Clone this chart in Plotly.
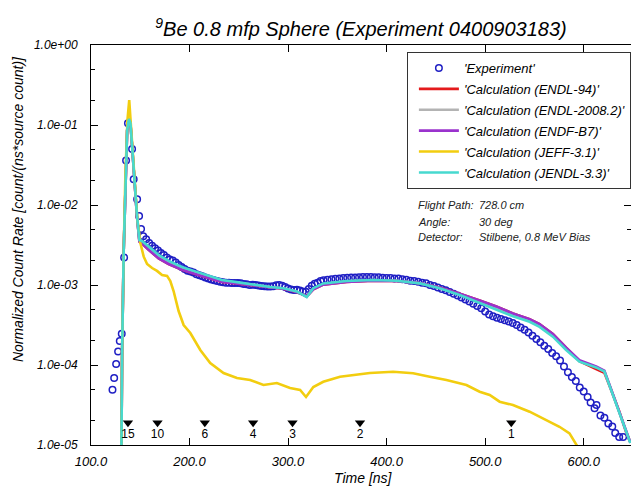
import plotly.graph_objects as go

# ---------------- data ----------------
T_EXP = [121.8, 123.5, 125.5, 127.5, 129.2, 131.2, 133.6, 135.6, 137.5, 141.7, 143.3, 146.8, 148.8, 150.8,
         153, 156, 159, 162, 165, 168, 171, 174, 177, 180, 183, 186, 189, 192, 195, 198,
         201, 204, 207, 210, 213, 216, 219, 222, 225, 228, 231, 234, 237, 240, 243, 246, 249,
         252, 255, 258, 261, 264, 267, 270, 273, 276, 279, 282, 285, 288, 291, 294, 297,
         300, 303, 306, 309, 312, 315, 318, 321, 324, 327, 330, 333, 336,
         340, 344, 348, 352, 356, 360, 364, 368, 372, 376, 380, 384, 388, 392, 396,
         400, 404, 408, 412, 416, 420, 424, 428, 432, 436, 440, 444, 448, 452, 456,
         460, 464, 468, 472, 476, 480, 484, 488, 492, 496,
         500, 504, 508, 512, 516, 520, 524, 528, 532, 536, 540, 544, 548, 552, 556,
         560, 564, 568, 572, 576, 580, 584, 588, 592, 596,
         600, 604, 607, 611, 613, 617, 621, 625, 629, 632, 636, 640]
Y_EXP = [4.9e-5, 6.9e-5, 1.03e-4, 1.47e-4, 2.0e-4, 2.46e-4, 2.2e-3, 3.6e-2, 1.05e-1, 5.0e-2, 2.1e-2, 1.18e-2, 7.3e-3, 5.0e-3,
         4.07e-3, 3.72e-3, 3.35e-3, 3.09e-3, 2.88e-3, 2.69e-3, 2.51e-3, 2.37e-3, 2.21e-3, 2.09e-3, 2.02e-3, 1.91e-3, 1.78e-3, 1.68e-3, 1.58e-3, 1.51e-3,
         1.48e-3, 1.43e-3, 1.36e-3, 1.32e-3, 1.29e-3, 1.24e-3, 1.21e-3, 1.17e-3, 1.15e-3, 1.12e-3, 1.10e-3, 1.08e-3, 1.07e-3, 1.07e-3, 1.06e-3, 1.06e-3, 1.06e-3,
         1.05e-3, 1.03e-3, 1.02e-3, 1.0e-3, 1.01e-3, 1.0e-3, 9.87e-4, 9.75e-4, 9.64e-4, 9.55e-4, 9.55e-4, 9.68e-4, 9.95e-4, 1.0e-3, 9.82e-4, 9.44e-4,
         9.02e-4, 8.81e-4, 8.65e-4, 8.71e-4, 8.51e-4, 8.32e-4, 8.22e-4, 8.91e-4, 9.77e-4, 1.035e-3, 1.07e-3, 1.12e-3, 1.15e-3,
         1.16e-3, 1.18e-3, 1.20e-3, 1.21e-3, 1.22e-3, 1.23e-3, 1.24e-3, 1.245e-3, 1.25e-3, 1.256e-3, 1.26e-3, 1.26e-3, 1.25e-3, 1.25e-3, 1.23e-3,
         1.22e-3, 1.22e-3, 1.21e-3, 1.21e-3, 1.18e-3, 1.16e-3, 1.13e-3, 1.12e-3, 1.10e-3, 1.07e-3, 1.05e-3, 1.0e-3, 9.73e-4, 9.33e-4, 8.91e-4,
         8.61e-4, 8.17e-4, 7.76e-4, 7.41e-4, 7.0e-4, 6.61e-4, 6.24e-4, 5.82e-4, 5.46e-4, 5.13e-4,
         4.68e-4, 4.27e-4, 4.07e-4, 3.89e-4, 3.76e-4, 3.63e-4, 3.51e-4, 3.35e-4, 3.16e-4, 2.95e-4, 2.75e-4, 2.54e-4, 2.32e-4, 2.11e-4, 1.93e-4,
         1.74e-4, 1.58e-4, 1.41e-4, 1.29e-4, 1.135e-4, 9.55e-5, 8.13e-5, 7.08e-5, 6.31e-5, 5.25e-5,
         4.68e-5, 3.98e-5, 3.39e-5, 2.88e-5, 3.16e-5, 2.34e-5, 2.19e-5, 1.86e-5, 1.70e-5, 1.41e-5, 1.26e-5, 1.26e-5]

T_CALC = [130.9, 131.6, 133.2, 134.9, 136.7, 138.5, 140.0, 142.0, 144.1, 146.6, 149.1,
          151.8, 158.5, 168.7, 178.8, 192.4, 205.8, 219.3, 232.9, 251.4, 266.6, 281.8, 295.2,
          308.8, 318.9, 325.6, 335.7, 359.4, 386.4, 410.1, 433.7, 453.9, 474.2, 494.4,
          511.3, 528.2, 545.1, 555.2, 568.7, 582.2, 595.7, 612.6, 621.0, 627.8, 636.2, 643.0, 647.3]
Y_JENDL33 = [1.0e-5, 1.54e-4, 2.74e-3, 2.05e-2, 8.66e-2, 1.19e-1, 1.06e-1, 4.87e-2, 1.78e-2, 7.5e-3, 3.65e-3,
             3.55e-3, 3.02e-3, 2.37e-3, 2.0e-3, 1.68e-3, 1.48e-3, 1.30e-3, 1.155e-3, 1.07e-3, 1.0e-3, 9.44e-4, 9.12e-4,
             8.32e-4, 7.08e-4, 9.12e-4, 1.047e-3, 1.12e-3, 1.155e-3, 1.13e-3, 1.047e-3, 9.12e-4, 7.5e-4, 5.96e-4,
             5.01e-4, 4.07e-4, 3.47e-4, 2.99e-4, 2.26e-4, 1.54e-4, 1.10e-4, 9.33e-5, 8.32e-5, 4.87e-5, 2.51e-5, 1.41e-5, 1.06e-5]
Y_ENDFB7 = [1.0e-5, 1.54e-4, 2.74e-3, 2.05e-2, 8.66e-2, 1.19e-1, 1.06e-1, 4.87e-2, 1.78e-2, 7.3e-3, 3.5e-3,
            3.3e-3, 2.75e-3, 2.15e-3, 1.83e-3, 1.55e-3, 1.37e-3, 1.21e-3, 1.09e-3, 1.03e-3, 9.8e-4, 9.3e-4, 9.0e-4,
            8.2e-4, 7.2e-4, 8.8e-4, 1.01e-3, 1.09e-3, 1.13e-3, 1.12e-3, 1.05e-3, 9.3e-4, 7.8e-4, 6.4e-4,
            5.4e-4, 4.4e-4, 3.75e-4, 3.25e-4, 2.45e-4, 1.65e-4, 1.15e-4, 9.6e-5, 8.5e-5, 5.0e-5, 2.6e-5, 1.45e-5, 1.08e-5]
Y_ENDL94 = [1.0e-5, 1.54e-4, 2.74e-3, 2.05e-2, 8.66e-2, 1.19e-1, 1.06e-1, 4.87e-2, 1.78e-2, 7.3e-3, 3.5e-3,
            3.3e-3, 2.75e-3, 2.15e-3, 1.83e-3, 1.55e-3, 1.37e-3, 1.21e-3, 1.09e-3, 1.03e-3, 9.8e-4, 9.3e-4, 9.0e-4,
            8.2e-4, 7.2e-4, 8.8e-4, 1.01e-3, 1.09e-3, 1.13e-3, 1.12e-3, 1.05e-3, 9.3e-4, 7.8e-4, 6.4e-4,
            5.4e-4, 4.4e-4, 3.75e-4, 3.25e-4, 2.45e-4, 1.65e-4, 1.12e-4, 8.9e-5, 8.0e-5, 4.9e-5, 2.6e-5, 1.45e-5, 1.08e-5]
Y_ENDL2008 = [1.0e-5, 1.54e-4, 2.74e-3, 2.05e-2, 8.66e-2, 1.19e-1, 1.06e-1, 4.87e-2, 1.78e-2, 7.4e-3, 3.6e-3,
              3.45e-3, 2.9e-3, 2.28e-3, 1.93e-3, 1.63e-3, 1.44e-3, 1.27e-3, 1.13e-3, 1.06e-3, 9.9e-4, 9.4e-4, 9.1e-4,
              8.3e-4, 7.1e-4, 9.0e-4, 1.03e-3, 1.11e-3, 1.15e-3, 1.13e-3, 1.05e-3, 9.2e-4, 7.6e-4, 6.1e-4,
              5.1e-4, 4.2e-4, 3.6e-4, 3.1e-4, 2.35e-4, 1.6e-4, 1.12e-4, 9.4e-5, 8.3e-5, 4.9e-5, 2.55e-5, 1.43e-5, 1.07e-5]

T_JEFF = [130.9, 131.6, 133.2, 134.9, 137.0, 138.8, 140.0, 142.0, 144.6, 147.1, 150.1, 153.5, 156.9, 162.0,
          167.0, 172.1, 177.2, 180.5, 183.8, 188.9, 194.0, 200.8, 210.9, 221.0, 234.5, 248.1, 261.5, 275.0,
          288.6, 302.0, 312.2, 318.2, 325.6, 335.7, 352.7, 369.6, 383.0, 406.6, 426.9, 443.8, 460.7, 481.0,
          494.4, 504.6, 514.7, 528.2, 545.1, 562.0, 575.4, 585.6, 595.0]
Y_JEFF31 = [1.0e-5, 1.54e-4, 2.74e-3, 2.37e-2, 1.155e-1, 2.05e-1, 1.22e-1, 4.87e-2, 1.54e-2, 6.5e-3, 3.35e-3, 2.26e-3, 1.83e-3, 1.63e-3,
            1.50e-3, 1.33e-3, 1.30e-3, 1.12e-3, 8.41e-4, 4.73e-4, 3.16e-4, 2.51e-4, 1.54e-4, 1.06e-4, 7.94e-5, 6.88e-5, 6.49e-5, 5.62e-5,
            5.96e-5, 5.16e-5, 4.87e-5, 3.98e-5, 5.31e-5, 6.17e-5, 7.14e-5, 7.5e-5, 7.94e-5, 8.24e-5, 7.87e-5, 7.14e-5, 6.49e-5, 5.62e-5,
            4.64e-5, 4.22e-5, 3.48e-5, 3.16e-5, 2.61e-5, 2.05e-5, 1.69e-5, 1.40e-5, 9.0e-6]

E_LABELS = ["15", "10", "6", "4", "3", "2", "1"]
E_TIMES = [137.5, 167.5, 215.5, 264.5, 304.5, 373.0, 526.5]
E_MARK_Y = [1.9e-5, 1.9e-5, 1.9e-5, 1.9e-5, 1.9e-5, 1.9e-5, 1.9e-5]

Y_TICKS = [1e-5, 1e-4, 1e-3, 1e-2, 1e-1, 1.0]
Y_TICKTEXT = ["1.0e-05", "1.0e-04", "1.0e-03", "1.0e-02", "1.0e-01", "1.0e+00"]
Y_MINOR = [2e-5, 5e-5, 2e-4, 5e-4, 2e-3, 5e-3, 2e-2, 5e-2, 2e-1, 5e-1]
X_TICKS = [100, 200, 300, 400, 500, 600]
X_TICKTEXT = ["100.0", "200.0", "300.0", "400.0", "500.0", "600.0"]

INFO_LABELS = ["Flight Path:", "Angle:", "Detector:"]
INFO_VALUES = ["728.0 cm", "30 deg", "Stilbene, 0.8 MeV Bias"]

FONT = "Liberation Sans, Arial, Helvetica, sans-serif"

# ---------------- figure ----------------
fig = go.Figure()

fig.add_trace(go.Scatter(
    x=T_EXP, y=Y_EXP, mode="markers", name="'Experiment'", legendgroup="a",
    marker=dict(symbol="circle-open", size=6.5, color="#1f1fc4", line=dict(width=1.5, color="#1f1fc4"))))

calc = [
    ("'Calculation (ENDL-94)'", T_CALC, Y_ENDL94, "#e41a1c", "b"),
    ("'Calculation (ENDL-2008.2)'", T_CALC, Y_ENDL2008, "#b3b3b3", "c"),
    ("'Calculation (ENDF-B7)'", T_CALC, Y_ENDFB7, "#9a32cd", "d"),
    ("'Calculation (JEFF-3.1)'", T_JEFF, Y_JEFF31, "#f2cd0f", "e"),
    ("'Calculation (JENDL-3.3)'", T_CALC, Y_JENDL33, "#46d9cf", "f"),
]
for name, tx, ty, col, grp in calc:
    fig.add_trace(go.Scatter(x=tx, y=ty, mode="lines", name=name, legendgroup=grp,
                             line=dict(color=col, width=2.6)))

fig.add_trace(go.Scatter(
    x=E_TIMES, y=E_MARK_Y, mode="markers+text", text=E_LABELS, textposition="bottom center",
    textfont=dict(size=12, color="black", family=FONT, style="normal"),
    marker=dict(symbol="triangle-down", size=9, color="black"), showlegend=False, cliponaxis=False))

axis_common = dict(showline=True, linecolor="black", linewidth=1, mirror="ticks",
                   ticks="inside", tickcolor="black", showgrid=False, zeroline=False)

fig.update_xaxes(range=[100, 648], tickvals=X_TICKS, ticktext=X_TICKTEXT, ticklen=7,
                 tickfont=dict(size=13, family=FONT, style="italic", color="black"),
                 ticklabelstandoff=4, **axis_common)
fig.update_yaxes(type="log", range=[-5, 0], tickvals=Y_TICKS, ticktext=Y_TICKTEXT, ticklen=7,
                 tickfont=dict(size=12, family=FONT, style="italic", color="black"),
                 ticklabelstandoff=10,
                 minor=dict(tickvals=Y_MINOR, ticks="inside", ticklen=4, tickcolor="black"),
                 **axis_common)

annotations = [
    dict(text="Time [ns]", x=0.504, y=-0.083, xref="paper", yref="paper", showarrow=False,
         font=dict(size=14, family=FONT, style="italic", color="black"), xanchor="center", yanchor="middle"),
    dict(text="Normalized Count Rate [count/(ns*source count)]", x=-0.135, y=0.59, xref="paper", yref="paper",
         showarrow=False, textangle=-90,
         font=dict(size=14, family=FONT, style="italic", color="black"), xanchor="center", yanchor="middle"),
]
info_y = [0.60, 0.5575, 0.52]
for lab, val, yy in zip(INFO_LABELS, INFO_VALUES, info_y):
    annotations.append(dict(text=lab, x=0.602, y=yy, xref="paper", yref="paper", showarrow=False,
                            xanchor="left", yanchor="middle",
                            font=dict(size=11, family=FONT, style="italic", color="#222")))
    annotations.append(dict(text=val, x=0.715, y=yy, xref="paper", yref="paper", showarrow=False,
                            xanchor="left", yanchor="middle",
                            font=dict(size=11, family=FONT, style="italic", color="#222")))

fig.update_layout(
    width=631, height=487,
    margin=dict(l=91, r=0, t=45, b=42),
    paper_bgcolor="white", plot_bgcolor="white",
    font=dict(family=FONT, style="italic", color="black"),
    title=dict(text="<sup>9</sup>Be 0.8 mfp Sphere (Experiment 0400903183)", x=0.5, xref="paper",
               y=1 - 29 / 487, yref="container", xanchor="center", yanchor="middle",
               font=dict(size=20, family=FONT, style="italic", color="black")),
    legend=dict(x=0.585, y=0.9825, xanchor="left", yanchor="top", bgcolor="white",
                bordercolor="#333", borderwidth=1, traceorder="grouped", tracegroupgap=1,
                font=dict(size=13, family=FONT, style="italic", color="black"),
                itemwidth=40, indentation=6),
    annotations=annotations,
    showlegend=True,
)

fig.write_html("out.html")
